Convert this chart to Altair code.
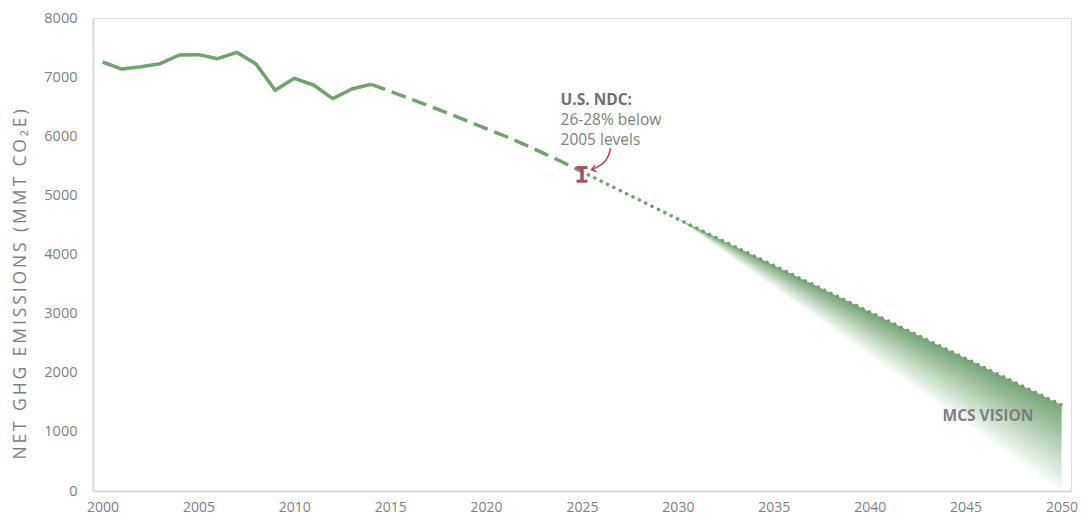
import altair as alt
import pandas as pd

# ---------------- data ----------------
hist_years = list(range(2000, 2015))
hist_values = [7256, 7137, 7176, 7227, 7374, 7380, 7312, 7420, 7222, 6777,
               6980, 6867, 6636, 6799, 6879]

proj_years = list(range(2014, 2026))
proj_values = [6879, 6760, 6640, 6515, 6390, 6260, 6130, 6000, 5860, 5710,
               5560, 5400]

vision_years = list(range(2025, 2051))
vision_values = [5400, 5240, 5080, 4920, 4760, 4600, 4443, 4285, 4128, 3971,
                 3814, 3656, 3499, 3341, 3184, 3027, 2870, 2712, 2555, 2398,
                 2240, 2083, 1926, 1769, 1612, 1455]

fan_years = [2030, 2050]
fan_top = [4600, 1455]
fan_bottom_2050 = [1430, 1400, 1370, 1340, 1310, 1280, 1250, 1215, 1180, 1145,
                   1110, 1070, 1030, 990, 945, 900, 850, 800, 745, 690,
                   630, 565, 495, 420, 340, 255, 165, 80, 0]

ndc_year = [2025]
ndc_low = [5240]
ndc_high = [5470]

arrow_x = [2026.49, 2026.38, 2026.12, 2025.76, 2025.55]
arrow_y = [5796, 5649, 5539, 5472, 5441]

ndc_title = "U.S. NDC:"
ndc_lines = ["26-28% below", "2005 levels"]
vision_label = "MCS VISION"

y_ticks = [0, 1000, 2000, 3000, 4000, 5000, 6000, 7000, 8000]
x_ticks = [2000, 2005, 2010, 2015, 2020, 2025, 2030, 2035, 2040, 2045, 2050]

GREEN = "#72a06f"
FAN = "#5f915b"
RED = "#b5485d"
GRAY = "#7f7f7f"
FONT = "Open Sans"

# ---------------- tables ----------------
hist_df = pd.DataFrame({"year": hist_years, "value": hist_values})
proj_df = pd.DataFrame({"year": proj_years, "value": proj_values})
vis_df = pd.DataFrame({"year": vision_years, "value": vision_values})

fan_rows = []
for k, b in enumerate(fan_bottom_2050):
    fan_rows.append({"k": k, "year": fan_years[0], "top": fan_top[0], "bottom": fan_top[0]})
    fan_rows.append({"k": k, "year": fan_years[1], "top": fan_top[1], "bottom": b})
fan_df = pd.DataFrame(fan_rows)

ndc_df = pd.DataFrame({"year": ndc_year, "lo": ndc_low, "hi": ndc_high})
arrow_df = pd.DataFrame({"x": arrow_x, "y": arrow_y, "o": list(range(len(arrow_x)))})
arrow_tip = pd.DataFrame({"x": [arrow_x[-1]], "y": [arrow_y[-1]]})

title_text = "\u2009".join("NET GHG EMISSIONS (MMT CO\u2082E)")

xscale = alt.Scale(domain=[1999.5, 2050.5], nice=False, zero=False)
yscale = alt.Scale(domain=[0, 8000], nice=False)

X = alt.X("year:Q", scale=xscale,
          axis=alt.Axis(values=x_ticks, format="d", title=None, grid=False,
                        ticks=False, labelPadding=9, labelFontSize=14,
                        labelFont=FONT, labelColor=GRAY, domainColor="#d9d9d9",
                        domainWidth=2, labelFlush=False))
Y = alt.Y("value:Q", scale=yscale,
          axis=alt.Axis(values=y_ticks, format="d", title=title_text, grid=False, ticks=False,
                        labelPadding=16, labelFontSize=14.5, labelFont=FONT,
                        labelColor=GRAY, domainColor="#d9d9d9", domainWidth=2,
                        titleFont=FONT, titleFontSize=17.5, titleFontWeight="normal",
                        titleColor=GRAY, titleX=-73, titleY=266,
                        titleAngle=270, titleBaseline="middle", titleAlign="center"))

fan = alt.Chart(fan_df).mark_area(color=FAN, opacity=0.046, interpolate="linear").encode(
    x=alt.X("year:Q", scale=xscale),
    y=alt.Y("top:Q", scale=yscale),
    y2="bottom:Q",
    detail="k:N",
)

hist = alt.Chart(hist_df).mark_line(color=GREEN, strokeWidth=3.5, strokeJoin="round").encode(x=X, y=Y)

proj = alt.Chart(proj_df).mark_line(color=GREEN, strokeWidth=3.5, strokeDash=[15, 7]).encode(
    x=alt.X("year:Q", scale=xscale), y=alt.Y("value:Q", scale=yscale))

vis = alt.Chart(vis_df).mark_line(color=GREEN, strokeWidth=3.5, strokeDash=[0.1, 7],
                                   strokeCap="round").encode(
    x=alt.X("year:Q", scale=xscale), y=alt.Y("value:Q", scale=yscale))

ndc_rule = alt.Chart(ndc_df).mark_rule(color=RED, strokeWidth=3.5).encode(
    x=alt.X("year:Q", scale=xscale), y=alt.Y("lo:Q", scale=yscale), y2="hi:Q")
ndc_lo = alt.Chart(ndc_df).mark_tick(color=RED, orient="horizontal", size=11, thickness=3,
                                      opacity=1).encode(
    x=alt.X("year:Q", scale=xscale), y=alt.Y("lo:Q", scale=yscale))
ndc_hi = alt.Chart(ndc_df).mark_tick(color=RED, orient="horizontal", size=11, thickness=3,
                                      opacity=1).encode(
    x=alt.X("year:Q", scale=xscale), y=alt.Y("hi:Q", scale=yscale))

arrow = alt.Chart(arrow_df).mark_line(color=RED, strokeWidth=1.6, interpolate="basis").encode(
    x=alt.X("x:Q", scale=xscale), y=alt.Y("y:Q", scale=yscale), order="o:Q")
arrow_head = alt.Chart(arrow_tip).mark_point(
    shape="M 1 -1 L -0.3 0 L 1 1", filled=False, color=RED, strokeWidth=1.6,
    size=45, angle=345, opacity=1).encode(
    x=alt.X("x:Q", scale=xscale), y=alt.Y("y:Q", scale=yscale))

t1 = alt.Chart().mark_text(text=ndc_title, align="left", baseline="alphabetic",
                           font=FONT, fontSize=15.5, fontWeight="bold", color="#707070").encode(
    x=alt.datum(2023.88, scale=xscale), y=alt.datum(6529, scale=yscale))
t2 = alt.Chart().mark_text(text=ndc_lines, align="left", baseline="alphabetic",
                           lineHeight=19.5, font=FONT, fontSize=15.5, color=GRAY).encode(
    x=alt.datum(2023.88, scale=xscale), y=alt.datum(6190, scale=yscale))
t4 = alt.Chart().mark_text(text=vision_label, align="right", baseline="alphabetic",
                           font=FONT, fontSize=15.5, fontWeight="bold", color=GRAY).encode(
    x=alt.datum(2048.54, scale=xscale), y=alt.datum(1189, scale=yscale))

chart = alt.layer(hist, fan, proj, vis, ndc_rule, ndc_lo, ndc_hi, arrow, arrow_head,
                  t1, t2, t4).properties(
    width=978, height=473,
    autosize=alt.AutoSizeParams(type="none"),
    padding={"left": 85, "top": 10, "right": 10, "bottom": 24},
).configure_view(stroke=None).configure(background="white")

chart.save("out.html", embed_options={"renderer": "svg", "actions": False})
